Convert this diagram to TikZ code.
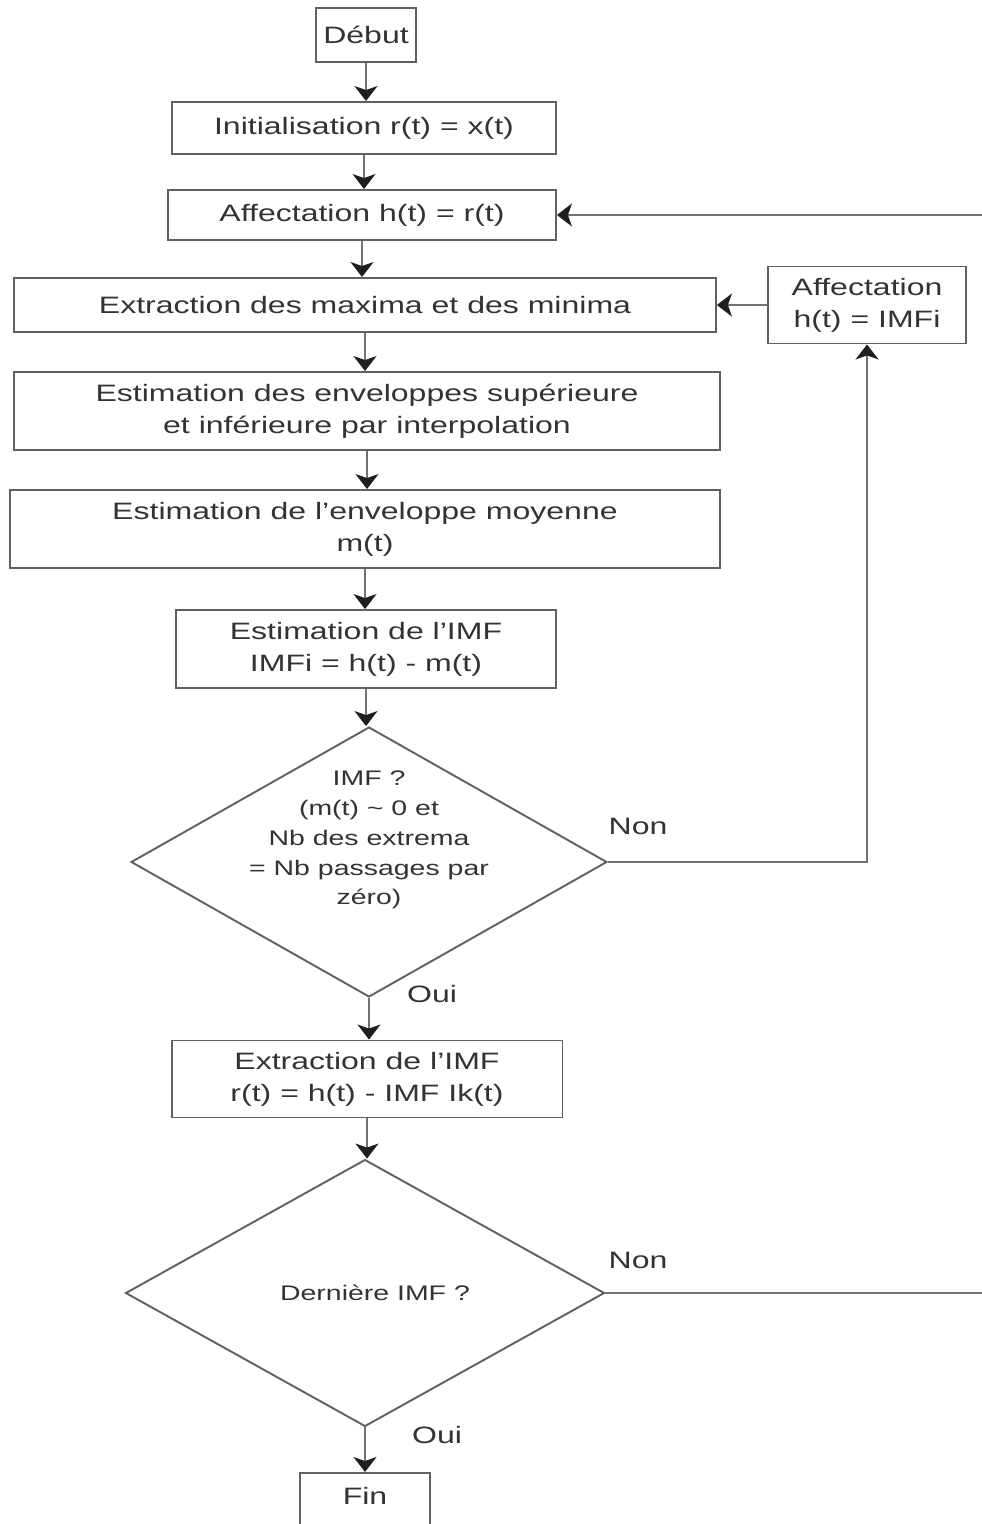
\documentclass[tikz,border=0pt]{standalone}
\usepackage{fontspec}
\setmainfont{Liberation Sans}[FakeStretch=1.35]
\usetikzlibrary{arrows.meta,shapes.geometric}

\tikzset{
	box/.style={draw=black!62, line width=1.1pt, rectangle, align=center, text=black!80,
		font=\fontsize{13.5}{18.2}\selectfont},
	decision/.style={draw=black!62, line width=1.1pt, diamond},
	small/.style={align=center, text=black!80, font=\fontsize{12}{17}\selectfont},
	answer/.style={text=black!80, font=\fontsize{13.5}{18}\selectfont},
	link/.style={draw=black!55, line width=1pt},
	arr/.style={link, -{Stealth[length=0.3cm, width=0.46cm, inset=0.08cm, color=black!88]}}
}

\begin{document}
\begin{tikzpicture}[x=0.02cm, y=-0.02cm]
			%%%%% START %%%%%
			\useasboundingbox (0, 0) rectangle (982, 1524);
			\clip (0, 0) rectangle (982, 1524);
			
			\node[box, minimum width=2cm, minimum height=1.08cm] (debut) at (366, 35) {Début};
			\node[box, minimum width=7.68cm, minimum height=1.04cm] (init) at (364, 128) {Initialisation r(t) = x(t)};
			\node[box, minimum width=7.76cm, minimum height=1cm] (affr) at (362, 215) {Affectation h(t) = r(t)};
			\node[box, minimum width=14.04cm, minimum height=1.08cm] (extr) at (365, 305) {Extraction des maxima et des minima};
			\node[box, minimum width=14.12cm, minimum height=1.56cm] (env) at (367, 411) {Estimation des enveloppes supérieure\\et inférieure par interpolation};
			\node[box, minimum width=14.2cm, minimum height=1.56cm] (moy) at (365, 529) {Estimation de l’enveloppe moyenne\\m(t)};
			\node[box, minimum width=7.6cm, minimum height=1.56cm] (imf) at (366, 649) {Estimation de l'IMF\\IMFi = h(t) - m(t)};
			
			\node[decision, minimum width=9.52cm, minimum height=5.4cm] (test1) at (369, 862) {};
			\node[small] (test1txt) at (369, 840) {IMF ?\\(m(t) \~{} 0 et\\Nb des extrema\\= Nb passages par\\zéro)};
			
			\node[box, minimum width=3.96cm, minimum height=1.54cm] (affi) at (867, 305) {Affectation\\h(t) = IMFi};
			
			\node[box, minimum width=7.82cm, minimum height=1.54cm] (extimf) at (367, 1079) {Extraction de l'IMF\\r(t) = h(t) - IMF Ik(t)};
			
			\node[decision, minimum width=9.58cm, minimum height=5.34cm] (test2) at (365, 1293) {};
			\node[small] (test2txt) at (375, 1293) {Dernière IMF ?};
			
			\node[box, anchor=north, minimum width=2.6cm, minimum height=1.4cm, text depth=0.5cm] (fin) at (365, 1472) {Fin};
			
			\node[answer] (non1) at (638, 826) {Non};
			\node[answer] (oui1) at (432, 994) {Oui};
			\node[answer] (non2) at (638, 1260) {Non};
			\node[answer] (oui2) at (437, 1435) {Oui};
			
			\coordinate (edgein) at (982, 215);
			\coordinate (edgeout) at (982, 1293);
			
			% main chain
			\draw[arr] (debut.south) -- (debut.south |- init.north);
			\draw[arr] (init.south) -- (init.south |- affr.north);
			\draw[arr] (affr.south) -- (affr.south |- extr.north);
			\draw[arr] (extr.south) -- (extr.south |- env.north);
			\draw[arr] (env.south) -- (env.south |- moy.north);
			\draw[arr] (moy.south) -- (moy.south |- imf.north);
			\draw[arr] (imf.south) -- (imf.south |- test1.north);
			\draw[arr] (test1.south) -- (test1.south |- extimf.north);
			\draw[arr] (extimf.south) -- (extimf.south |- test2.north);
			\draw[arr] (test2.south) -- (test2.south |- fin.north);
			
			% loops
			\draw[arr] (test1.east) -| (affi.south);
			\draw[arr] (affi.west) -- (affi.west -| extr.east);
			\draw[link] (test2.east) -- (edgeout);
			\draw[arr] (edgein) -- (affr.east);
			
			%%%%% END %%%%%
		\end{tikzpicture}
\end{document}
